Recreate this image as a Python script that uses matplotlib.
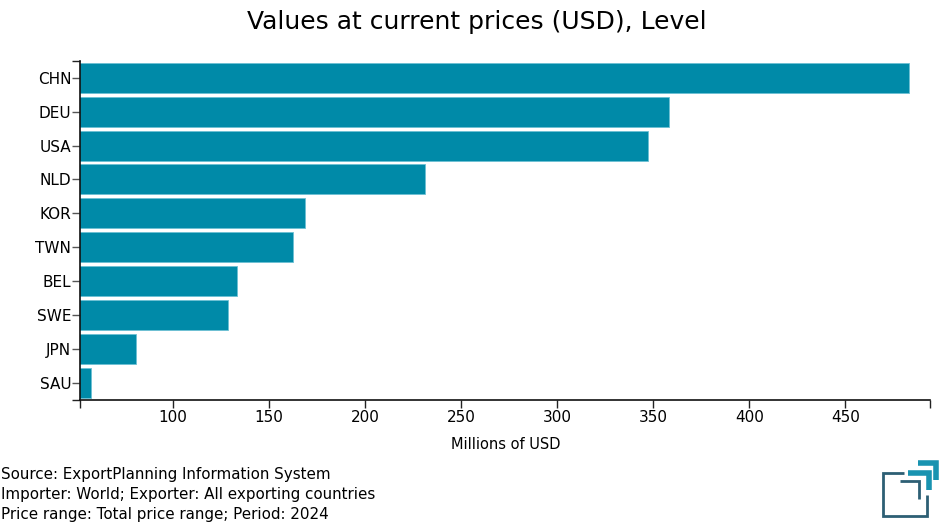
import matplotlib
matplotlib.use("Agg")
import matplotlib.pyplot as plt
from matplotlib.lines import Line2D
import numpy as np

# data (millions of USD, 2024)
countries = ["CHN", "DEU", "USA", "NLD", "KOR", "TWN", "BEL", "SWE", "JPN", "SAU"]
values = [483.3, 358.3, 347.2, 231.4, 169.0, 162.3, 133.2, 128.5, 80.7, 57.2]
x_ticks = [100, 150, 200, 250, 300, 350, 400, 450]
source_lines = [
    "Source: ExportPlanning Information System",
    "Importer: World; Exporter: All exporting countries",
    "Price range: Total price range; Period: 2024",
]

W, H = 950, 530
bar_color = "#008aa8"

fig = plt.figure(figsize=(W / 100, H / 100), dpi=100)
ax = fig.add_axes([80.3 / W, 1 - 400 / H, 850 / W, 339.3 / H])

y = np.arange(len(countries))
ax.barh(y, values, height=0.885, color=bar_color, edgecolor="#6cc0d3", linewidth=0.6)

xmin, xmax = 51.8, 494.2
ax.set_xlim(xmin, xmax)
ax.set_ylim(len(countries) - 0.5, -0.5)

ax.set_yticks(y)
ax.set_yticklabels(countries, fontsize=11)
ax.set_xticks(x_ticks)
ax.set_xticklabels([str(t) for t in x_ticks], fontsize=11)
# outer ticks at the ends of both axes
ax.set_xticks([xmin, xmax], minor=True)
ax.set_yticks([-0.5, len(countries) - 0.5], minor=True)
ax.tick_params(axis="both", which="both", length=6, width=1, color="#222222", direction="out")
ax.tick_params(axis="y", which="major", color="#555555", pad=0.5)
ax.tick_params(axis="x", which="major", pad=1.5)
ax.tick_params(axis="y", which="major", labelsize=11)

for side in ["top", "right"]:
    ax.spines[side].set_visible(False)
for side in ["left", "bottom"]:
    ax.spines[side].set_linewidth(1.2)
    ax.spines[side].set_color("#111111")

ax.set_xlabel("Millions of USD", fontsize=10.5, labelpad=8)

fig.text(477 / W, 1 - 22 / H, "Values at current prices (USD), Level",
         ha="center", va="center", fontsize=18)

for i, line in enumerate(source_lines):
    fig.text(1 / W, 1 - (474 + 20 * i) / H, line, ha="left", va="center", fontsize=10.9)


# small logo bottom right, drawn in pixel coordinates
def px(xs, ys):
    return [v / W for v in xs], [1 - v / H for v in ys]


dark = "#2d5f74"
teal = "#1893b0"
logo = [
    ([904, 882.5, 882.5, 927, 927], [472.5, 472.5, 515.5, 515.5, 495], dark, 2.0),
    ([900, 918.5, 918.5], [480.5, 480.5, 498.5], dark, 2.0),
    ([908, 928.5, 928.5], [473, 473, 490], teal, 4.0),
    ([917.5, 936, 936], [463, 463, 480], teal, 4.0),
]
for xs, ys, c, lw in logo:
    fx, fy = px(xs, ys)
    fig.add_artist(Line2D(fx, fy, color=c, linewidth=lw, solid_capstyle="butt",
                          solid_joinstyle="miter"))

fig.savefig("out.png", dpi=100)
